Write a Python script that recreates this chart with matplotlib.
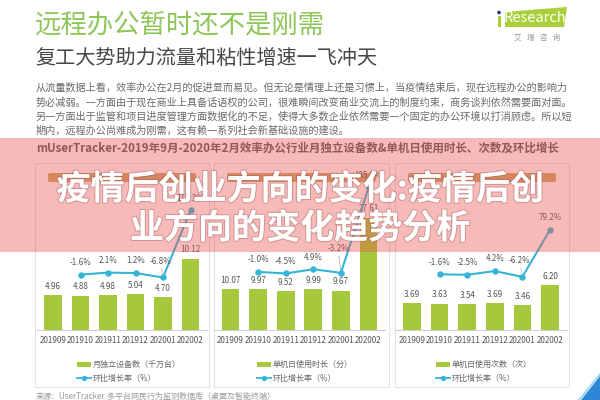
import matplotlib
matplotlib.use('Agg')
import matplotlib.pyplot as plt
from matplotlib.patches import Rectangle, Polygon, FancyBboxPatch, Circle
import matplotlib.patheffects as pe
import numpy as np

plt.rcParams['font.family'] = ['Noto Sans CJK SC', 'DejaVu Sans']

# ---------------- data ----------------
months = ['201909', '201910', '201911', '201912', '202001', '202002']
devices = [4.96, 4.88, 4.98, 5.04, 4.70, 10.12]
devices_growth = [-1.6, 2.1, 1.2, -6.8, 115.3]
duration = [10.07, 9.97, 9.52, 9.99, 9.67, 27.61]
duration_growth = [-1.0, -4.5, 4.9, -3.2, 185.5]
times = [3.69, 3.63, 3.54, 3.69, 3.46, 6.20]
times_growth = [-1.6, -2.5, 4.2, -6.2, 79.2]

bar_legends = ['月独立设备数（千万台）', '单机日使用时长（分）', '单机日使用次数（次）']
line_legend = '环比增长率（%）'

title = '远程办公暂时还不是刚需'
subtitle = '复工大势助力流量和粘性增速一飞冲天'
paragraph = [
    '从流量数据上看，效率办公在2月的促进显而易见。但无论是情理上还是习惯上，当疫情结束后，现在远程办公的影响力',
    '势必减弱。一方面由于现在商业上具备话语权的公司，很难瞬间改变商业交流上的制度约束，商务谈判依然需要面对面。',
    '另一方面出于监管和项目进度管理方面数据化的不足，使得大多数企业依然需要一个固定的办公环境以打消顾虑。所以短',
    '期内，远程办公尚难成为刚需，这有赖一系列社会新基础设施的建设。',
]
chart_title = 'mUserTracker-2019年9月-2020年2月效率办公行业月独立设备数&单机日使用时长、次数及环比增长'
overlay_lines = ['疫情后创业方向的变化:疫情后创', '业方向的变化趋势分析']
source = '来源：UserTracker.多平台网民行为监测数据库（桌面及智能终端）'

GREEN = '#a6c83c'
BLUE = '#36b4d8'

W, H = 600, 400
fig = plt.figure(figsize=(6, 4), dpi=100)
fig.patch.set_facecolor('white')

bg = fig.add_axes([0, 0, 1, 1], zorder=0)
bg.set_xlim(0, W)
bg.set_ylim(H, 0)
bg.axis('off')

# header texts
bg.text(35, 25, title, fontsize=19, color='#8ec65a', va='center', ha='left')
bg.text(35, 59, subtitle, fontsize=14.5, color='#474747', va='center', ha='left')
for i, line in enumerate(paragraph):
    bg.text(36, 88 + i * 14.2, line, fontsize=7.3, color='#6a6a6a', va='center', ha='left')
bg.text(36, 148, chart_title, fontsize=8.3, color='#5a5a5a', va='center', ha='left',
        fontweight='bold')

# logo
bg.add_patch(Polygon([(505, 12), (567, 7), (564, 27), (505, 27)], closed=True,
                     facecolor='#a9d03b', edgecolor='none'))
bg.add_patch(Circle((499, 12.5), 1.8, facecolor='#1f3b70', edgecolor='none'))
bg.add_patch(Rectangle((497.5, 16), 3, 11, facecolor='#a9d03b', edgecolor='none'))
bg.text(535, 18, 'Research', fontsize=10.5, color='white', ha='center', va='center')
bg.text(537, 38, '艾   瑞   咨   询', fontsize=5.5, color='#9a9a9a', ha='center', va='center')

# panels
panels = [(35, 174), (214, 175), (395, 174)]
for (x0, w) in panels:
    bg.add_patch(Rectangle((x0, 163), w, 224, facecolor='white', edgecolor='#e2e2e2', lw=0.8))
    bg.add_patch(FancyBboxPatch((x0 + 13, 173), w - 26, 9,
                                boxstyle='round,pad=0,rounding_size=2',
                                facecolor='#c9a86c', edgecolor='none'))

bg.text(36, 396, source, fontsize=5.8, color='#9a9a9a', va='center', ha='left')
bg.add_patch(Polygon([(600, 376), (600, 400), (581, 400)], closed=True,
                     facecolor='#2f86d6', edgecolor='none'))
bg.plot([579, 600], [400, 374], color='#7fd0e8', lw=1)

# chart panels
def draw_panel(c0, s, vals, growth, ppu, gscale, leg_x, bar_leg, lead_off):
    left = c0 - 0.6 * s
    width = 6.2 * s
    ax = fig.add_axes([left / W, (H - 330) / H, width / W, 170 / H], zorder=2)
    ax.patch.set_alpha(0)
    x = np.arange(len(vals))
    ax.bar(x, vals, width=0.64, color=GREEN, zorder=2)
    ax.set_xlim(-0.6, 5.6)
    ax.set_ylim(0, 170 / ppu)
    for sp in ['top', 'left', 'right']:
        ax.spines[sp].set_visible(False)
    ax.spines['bottom'].set_color('#cfcfcf')
    ax.spines['bottom'].set_linewidth(0.8)
    ax.set_yticks([])
    ax.set_xticks(x)
    ax.set_xticklabels(months, fontsize=5.8, color='#555555')
    ax.tick_params(axis='x', length=0, pad=4)
    for i, v in enumerate(vals):
        ax.annotate(f'{v:.2f}', (i, v), xytext=(0, 3), textcoords='offset points',
                    ha='center', va='bottom', fontsize=5.8, color='#555555')
    ax2 = ax.twinx()
    base = -60 / gscale - growth[3]
    ax2.set_ylim(base, base + 170 / gscale)
    ax2.axis('off')
    xs = x[1:]
    ax2.plot(xs, growth, color=BLUE, lw=1.5, marker='o', ms=3.6, zorder=3)
    for xi, g in zip(xs, growth):
        if xi == 4:
            ax2.annotate(f'{g:.1f}%', (xi, g), xytext=(-2, lead_off), textcoords='offset points',
                         ha='center', va='bottom', fontsize=5.8, color='#555555',
                         arrowprops=dict(arrowstyle='-', color='#aaaaaa', lw=0.5,
                                         shrinkA=0, shrinkB=2))
        else:
            ax2.annotate(f'{g:.1f}%', (xi, g), xytext=(0, 5.5), textcoords='offset points',
                         ha='center', va='bottom', fontsize=5.8, color='#555555')
    # legend
    bg.add_patch(Rectangle((leg_x, 361.5), 14, 5, facecolor=GREEN, edgecolor='none'))
    bg.text(leg_x + 16, 364, bar_leg, fontsize=5.8, color='#666666', va='center', ha='left')
    bg.plot([leg_x, leg_x + 14], [378, 378], color=BLUE, lw=1.3)
    bg.plot([leg_x + 7], [378], marker='o', ms=2.8, color=BLUE)
    bg.text(leg_x + 16, 378, line_legend, fontsize=5.8, color='#666666', va='center', ha='left')

draw_panel(53, 27.5, devices, devices_growth, 7.06, 0.55, 77, bar_legends[0], 8.5)
draw_panel(230.5, 27.6, duration, duration_growth, 4.07, 0.45, 257, bar_legends[1], 14)
draw_panel(412, 27.6, times, times_growth, 7.3, 0.55, 436, bar_legends[2], 8.5)

# overlay banner
top = fig.add_axes([0, 0, 1, 1], zorder=10)
top.set_xlim(0, W)
top.set_ylim(H, 0)
top.axis('off')
top.patch.set_alpha(0)
top.add_patch(Rectangle((0, 138), W, 114, facecolor=(0.93, 0.33, 0.31), alpha=0.4,
                        edgecolor='none'))
for i, line in enumerate(overlay_lines):
    top.text(300, 189 + i * 39, line, fontsize=24.5, color='white', fontweight='bold',
             ha='center', va='center',
             path_effects=[pe.withStroke(linewidth=1.5, foreground=(0.55, 0.3, 0.3, 0.35))])

fig.savefig('out.png', dpi=100, facecolor='white')
